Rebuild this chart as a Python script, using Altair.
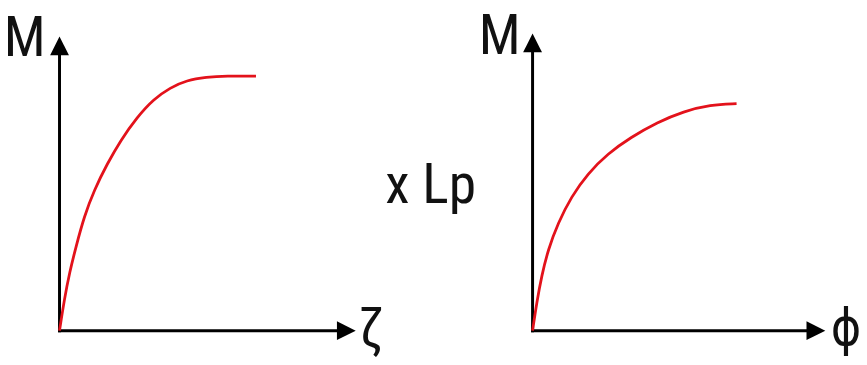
import altair as alt
import pandas as pd

# ---- data (axis units 0..10) ----
zeta = [0, 0.17, 0.35, 0.58, 0.86, 1.21, 1.67, 2.13, 2.70, 3.28, 3.86, 4.43, 5.12, 5.81, 6.85]
m_zeta = [0, 1.11, 2.04, 2.97, 4.01, 4.94, 5.87, 6.68, 7.49, 8.13, 8.53, 8.79, 8.90, 8.94, 8.94]

phi = [0, 0.15, 0.32, 0.55, 0.90, 1.37, 1.95, 2.65, 3.47, 4.40, 5.33, 6.27, 7.20]
m_phi = [0, 0.99, 1.90, 2.82, 3.74, 4.66, 5.46, 6.15, 6.72, 7.24, 7.62, 7.85, 7.89]

axis_max = [10, 10]
labels_left = ["M", "ζ"]
labels_right = ["M", "ϕ", "x Lp"]

RED = "#e3121b"
FONT = "Liberation Sans Narrow, Arial Narrow, Roboto Condensed, DejaVu Sans Condensed, Liberation Sans"
FS = 56
UP = "M-1,1L1,1L0,-1Z"
RIGHT = "M-1,-1L1,0L-1,1Z"
W, H = 859, 357


def panel(xs, ms, xrange, yrange, m_dx, m_dy, x_label, x_dx, x_dy, x_fs, side=None):
    xsc = alt.Scale(domain=[0, axis_max[0]], range=xrange, nice=False, zero=False)
    ysc = alt.Scale(domain=[0, axis_max[1]], range=yrange, nice=False, zero=False)
    X = lambda f: alt.X(f, type="quantitative", scale=xsc, axis=None)
    Y = lambda f: alt.Y(f, type="quantitative", scale=ysc, axis=None)

    vaxis = alt.Chart(pd.DataFrame({"x": [0], "m": [0], "m2": [axis_max[1]]})).mark_rule(
        color="black", strokeWidth=3, strokeCap="square"
    ).encode(x=X("x"), y=Y("m"), y2="m2")
    haxis = alt.Chart(pd.DataFrame({"x": [0], "x2": [axis_max[0]], "m": [0]})).mark_rule(
        color="black", strokeWidth=3, strokeCap="square"
    ).encode(x=X("x"), x2="x2", y=Y("m"))

    curve = alt.Chart(pd.DataFrame({"x": xs, "m": ms})).mark_line(
        color=RED, strokeWidth=2.8, interpolate="basis"
    ).encode(x=X("x"), y=Y("m"))

    up = alt.Chart(pd.DataFrame({"x": [0], "m": [axis_max[1]]})).mark_point(
        shape=UP, filled=True, color="black", opacity=1, size=361, strokeWidth=0
    ).encode(x=X("x"), y=Y("m"))
    right = alt.Chart(pd.DataFrame({"x": [axis_max[0]], "m": [0]})).mark_point(
        shape=RIGHT, filled=True, color="black", opacity=1, size=361, strokeWidth=0
    ).encode(x=X("x"), y=Y("m"))

    mlab = alt.Chart(pd.DataFrame({"x": [0], "m": [axis_max[1]], "t": ["M"]})).mark_text(
        align="right", baseline="alphabetic", dx=m_dx, dy=m_dy, fontSize=FS, font=FONT, color="#111"
    ).encode(x=X("x"), y=Y("m"), text="t:N")
    xlab = alt.Chart(pd.DataFrame({"x": [axis_max[0]], "m": [0], "t": [x_label]})).mark_text(
        align="left", baseline="alphabetic", dx=x_dx, dy=x_dy, fontSize=x_fs, font=FONT, color="#111"
    ).encode(x=X("x"), y=Y("m"), text="t:N")

    layers = [vaxis, haxis, curve, up, right, mlab, xlab]
    if side is not None:
        slab = alt.Chart(pd.DataFrame({"x": [0], "m": [axis_max[1] / 2], "t": [side]})).mark_text(
            align="right", baseline="alphabetic", dx=-57, dy=16, fontSize=FS, font=FONT, color="#111"
        ).encode(x=X("x"), y=Y("m"), text="t:N")
        layers.append(slab)
    return alt.layer(*layers)


left = panel(zeta, m_zeta, [52, 341.5], [324, 36.5], -14, 10.5, labels_left[1], 12, 17, FS)
right = panel(phi, m_phi, [529.5, 815.5], [324, 33.5], -12, 11.5, labels_right[1], 15, 14, 52,
              side=labels_right[2])

chart = alt.layer(left, right).resolve_scale(x="independent", y="independent").properties(
    width=W, height=H, autosize=alt.AutoSizeParams(type="none"), padding=0
).configure_view(stroke=None)

chart.save("out.html", embed_options={"renderer": "svg", "actions": False})
